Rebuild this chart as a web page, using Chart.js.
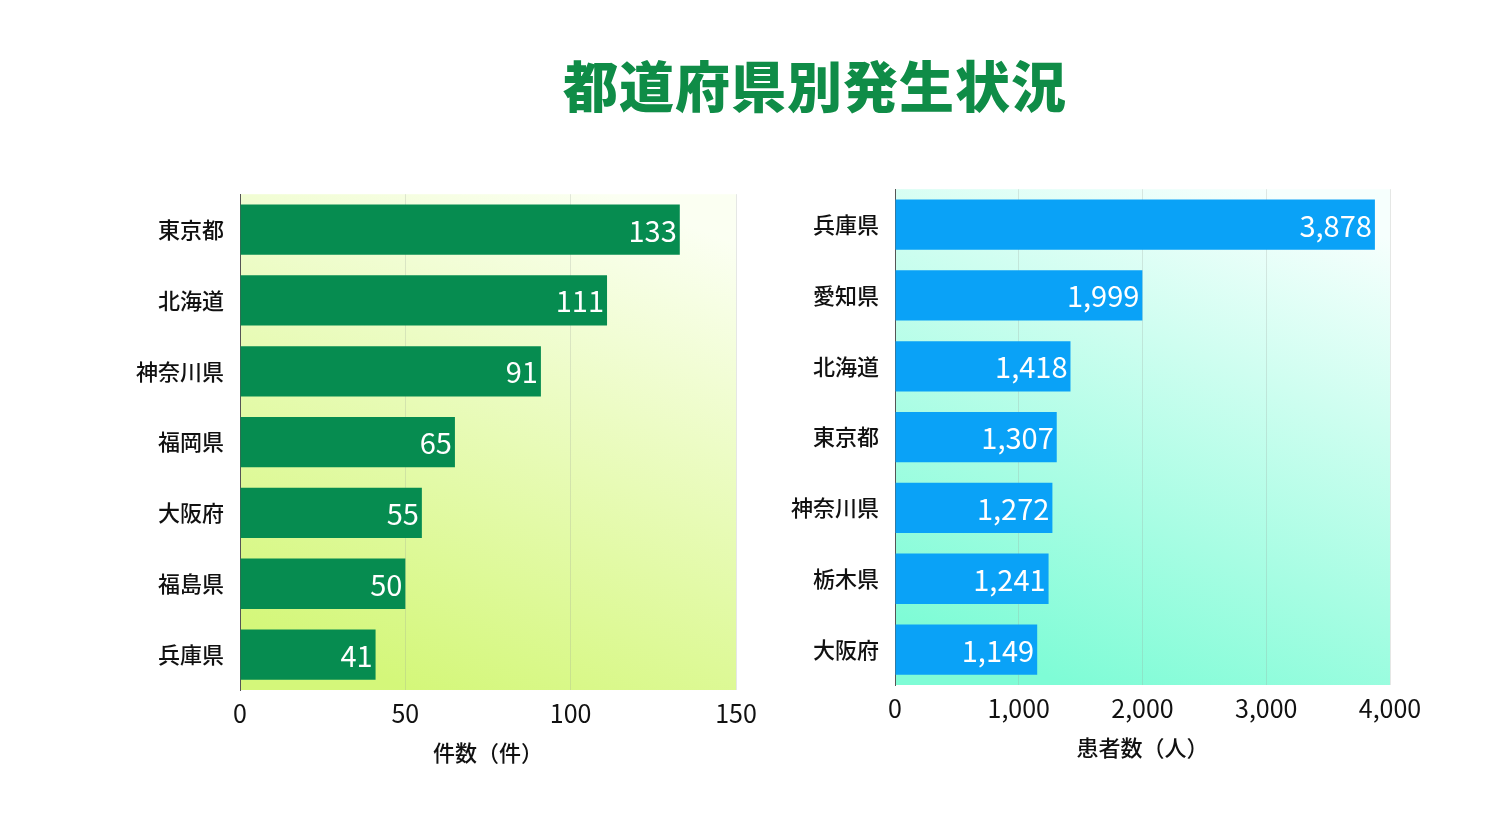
<!DOCTYPE html>
<html lang="ja">
<head>
<meta charset="utf-8">
<script src="https://cdn.jsdelivr.net/npm/chart.js@4/dist/chart.umd.min.js"></script>
<style>
  body { margin: 0; width: 1489px; height: 838px; background: #fff; position: relative; overflow: hidden;
         font-family: 'Noto Sans CJK JP', 'Noto Sans', sans-serif; }
  h1 { position: absolute; left: 0; width: 1630px; top: 45px; margin: 0; text-align: center;
       font-size: 55px; font-weight: 900; color: #0f8c47; letter-spacing: 1px; line-height: 76px; }
  .box { position: absolute; width: 680px; height: 615px; }
  #leftBox { left: 100px; top: 165px; }
  #rightBox { left: 770px; top: 160px; }
</style>
</head>
<body>
<h1>都道府県別発生状況</h1>
<div class="box" id="leftBox"><canvas id="leftChart" width="680" height="615"></canvas></div>
<div class="box" id="rightBox"><canvas id="rightChart" width="680" height="615"></canvas></div>
<script>
// Data
const leftLabels = ['東京都', '北海道', '神奈川県', '福岡県', '大阪府', '福島県', '兵庫県'];
const leftValues = [133, 111, 91, 65, 55, 50, 41];
const leftTicks = [0, 50, 100, 150];

const rightLabels = ['兵庫県', '愛知県', '北海道', '東京都', '神奈川県', '栃木県', '大阪府'];
const rightValues = [3878, 1999, 1418, 1307, 1272, 1241, 1149];
const rightTicks = [0, 1000, 2000, 3000, 4000];

const FONT = "'Noto Sans CJK JP', 'Noto Sans', sans-serif";
Chart.defaults.font.family = FONT;
Chart.defaults.color = '#111';

// background gradient behind the bars
const bgPlugin = {
  id: 'bgGrad',
  beforeDraw(chart, args, opts) {
    const { ctx, chartArea: a } = chart;
    const w = a.right - a.left;
    const g = ctx.createLinearGradient(a.left + w * 0.75, a.top, a.left + w * 0.35, a.bottom);
    g.addColorStop(0, opts.top);
    g.addColorStop(1, opts.bottom);
    ctx.save();
    ctx.fillStyle = g;
    ctx.fillRect(a.left, a.top, w, a.bottom - a.top);
    ctx.restore();
  }
};

// value labels inside the bar ends
const valuePlugin = {
  id: 'values',
  afterDatasetsDraw(chart, args, opts) {
    const { ctx } = chart;
    const meta = chart.getDatasetMeta(0);
    ctx.save();
    ctx.fillStyle = '#fff';
    ctx.font = '29px ' + FONT;
    ctx.textAlign = 'right';
    ctx.textBaseline = 'middle';
    meta.data.forEach((bar, i) => {
      const v = chart.data.datasets[0].data[i];
      ctx.fillText(opts.fmt(v), bar.x - 3, bar.y + 1);
    });
    ctx.restore();
  }
};

function makeChart(id, labels, values, ticks, color, title, gradTop, gradBottom, yWidth, padRight, fmt) {
  return new Chart(document.getElementById(id), {
    type: 'bar',
    data: {
      labels: labels,
      datasets: [{
        data: values,
        backgroundColor: color,
        borderWidth: 0,
        barPercentage: 0.71,
        categoryPercentage: 1
      }]
    },
    options: {
      indexAxis: 'y',
      responsive: false,
      animation: false,
      layout: { padding: { top: 13, right: padRight, left: 0, bottom: 10 } },
      plugins: {
        legend: { display: false },
        tooltip: { enabled: false },
        bgGrad: { top: gradTop, bottom: gradBottom },
        values: { fmt: fmt }
      },
      scales: {
        x: {
          min: ticks[0],
          max: ticks[ticks.length - 1],
          afterBuildTicks(axis) { axis.ticks = ticks.map(v => ({ value: v })); },
          afterFit(axis) { axis.height = 80; },
          grid: { color: 'rgba(150,160,150,0.25)', drawTicks: false },
          border: { display: false },
          ticks: { padding: 8, font: { size: 25 }, color: '#111', callback: v => fmt(v) },
          title: { display: true, text: title, font: { size: 22, weight: '500' }, color: '#111', padding: { top: 2 } }
        },
        y: {
          afterFit(axis) { axis.width = yWidth; },
          grid: { display: false, drawTicks: false },
          border: { display: true, color: '#555', width: 1 },
          ticks: { padding: 16, font: { size: 22, weight: '500' }, color: '#111' }
        }
      }
    },
    plugins: [bgPlugin, valuePlugin]
  });
}

makeChart('leftChart', leftLabels, leftValues, leftTicks, '#068c50', '件数（件）',
  '#fbfff2', '#d4f77a', 140, 44, v => String(v));
makeChart('rightChart', rightLabels, rightValues, rightTicks, '#0aa2f7', '患者数（人）',
  '#f6fffd', '#7ffcd6', 125, 60, v => v.toLocaleString('en-US'));
</script>
</body>
</html>
